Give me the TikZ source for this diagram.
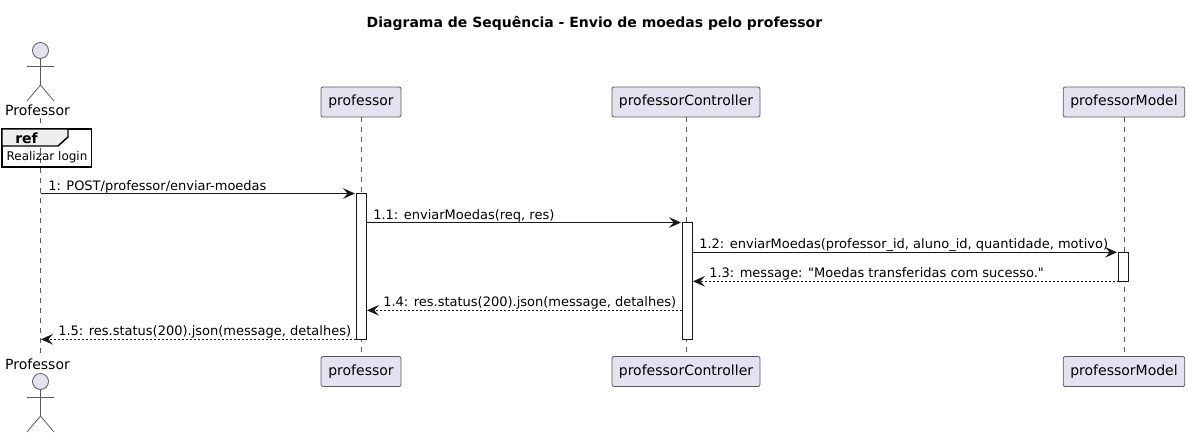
\documentclass[tikz,border=0pt]{standalone}
\usepackage{fontspec}
\setmainfont{DejaVu Sans}[Ligatures=TeXOff]
\usetikzlibrary{arrows.meta}
\pgfdeclarelayer{bg}
\pgfsetlayers{bg,main}
\definecolor{partfill}{HTML}{E2E2F0}
\definecolor{partline}{HTML}{5A5A5A}
\definecolor{msgline}{HTML}{181818}
\definecolor{reffill}{HTML}{EEEEEE}
\tikzset{
    part/.style={draw=partline, line width=.6pt, fill=partfill, rounded corners=1.5pt, inner sep=0pt, minimum height=22.5pt, font=\fontsize{10.5}{12}\selectfont},
    who/.style={inner sep=0pt, font=\fontsize{10.5}{12}\selectfont},
    msg/.style={inner sep=0pt, anchor=base west, font=\fontsize{9.75}{12}\selectfont},
    act/.style={draw=msgline, line width=.75pt, fill=white, inner sep=0pt, minimum width=7.5pt},
    life/.style={draw=partline, line width=.5pt, dash pattern=on 3.75pt off 3.75pt},
    stick/.style={draw=partline, line width=.6pt},
    headc/.style={circle, draw=partline, line width=.6pt, fill=partfill, inner sep=0pt, minimum size=12pt},
    call/.style={-{Stealth[length=9pt, width=8pt, inset=3.5pt]}, line width=.75pt, draw=msgline},
    back/.style={-{Stealth[length=9pt, width=8pt, inset=3.5pt]}, line width=.6pt, draw=msgline, dash pattern=on 1.5pt off 1.5pt}
}

\begin{document}
\begin{tikzpicture}[x=.75pt, y=-.75pt]
    \useasboundingbox (0,0) rectangle (1189,437);

    \node (title) at (594.5,23.7) [inner sep=0pt, font=\fontsize{10.5}{12}\selectfont\bfseries] {Diagrama de Sequência - Envio de moedas pelo professor};

    % actor, top and bottom
    \node (head1) at (40.5,50.5) [headc] {};
    \coordinate (hip1) at (40.5,85);
    \coordinate (armL1) at (27,66);
    \coordinate (armR1) at (54,66);
    \coordinate (legL1) at (27,101);
    \coordinate (legR1) at (54,101);
    \draw [stick] (head1) -- (hip1);
    \draw [stick] (armL1) -- (armR1);
    \draw [stick] (legL1) -- (hip1) -- (legR1);
    \node (who1) at (37.5,110) [who] {Professor};

    \node (who2) at (37.5,364) [who] {Professor};
    \node (head2) at (40.5,381.5) [headc] {};
    \coordinate (hip2) at (40.5,416);
    \coordinate (armL2) at (27,397);
    \coordinate (armR2) at (54,397);
    \coordinate (legL2) at (27,432);
    \coordinate (legR2) at (54,432);
    \draw [stick] (head2) -- (hip2);
    \draw [stick] (armL2) -- (armR2);
    \draw [stick] (legL2) -- (hip2) -- (legR2);

    % participants
    \node (prof1) at (361,102) [part, minimum width=60pt] {professor};
    \node (ctrl1) at (686,102) [part, minimum width=111pt] {professorController};
    \node (model1) at (1124,102) [part, minimum width=91.2pt] {professorModel};
    \node (prof2) at (361,371.5) [part, minimum width=60pt] {professor};
    \node (ctrl2) at (686,371.5) [part, minimum width=111pt] {professorController};
    \node (model2) at (1124,371.5) [part, minimum width=91.2pt] {professorModel};

    \coordinate (lifeA1) at (40.5,118);
    \coordinate (lifeA2) at (40.5,353);
    \begin{pgfonlayer}{bg}
        \draw [life] (lifeA1) -- (lifeA2);
        \draw [life] (prof1) -- (prof2);
        \draw [life] (ctrl1) -- (ctrl2);
        \draw [life] (model1) -- (model2);
    \end{pgfonlayer}

    % ref frame
    \node (refbox) at (46.75,148) [draw=black, line width=1.1pt, minimum width=67pt, minimum height=28.5pt, inner sep=0pt] {};
    \coordinate (tabA) at (2,146);
    \coordinate (tabB) at (58,146);
    \coordinate (tabC) at (68,137);
    \coordinate (tabD) at (68,129);
    \coordinate (tabE) at (2,129);
    \draw [line width=1.1pt, fill=reffill] (tabE) -- (tabD) -- (tabC) -- (tabB) -- (tabA) -- cycle;
    \node (reflabel) at (26.5,138.5) [inner sep=0pt, font=\fontsize{10.5}{12}\selectfont\bfseries] {ref};
    \node (refbody) at (47,157) [inner sep=0pt, font=\fontsize{9}{10}\selectfont] {Realizar login};

    % activations
    \node (actProf) at (361.5,266.4) [act, minimum height=109.5pt] {};
    \node (actCtrl) at (687.5,280.8) [act, minimum height=87.75pt] {};
    \node (actModel) at (1123.5,266.8) [act, minimum height=21.75pt] {};

    % messages
    \coordinate (m1s) at (40.5,193.5);
    \coordinate (m1e) at (355,193.5);
    \coordinate (m2s) at (367,222.5);
    \coordinate (m2e) at (681,222.5);
    \coordinate (m3s) at (692.5,252.3);
    \coordinate (m3e) at (1117,252.3);
    \coordinate (m4s) at (1118.5,281.3);
    \coordinate (m4e) at (693,281.3);
    \coordinate (m5s) at (682,310.3);
    \coordinate (m5e) at (367,310.3);
    \coordinate (m6s) at (356,339.3);
    \coordinate (m6e) at (41,339.3);
    \draw [call] (m1s) -- (m1e);
    \draw [call] (m2s) -- (m2e);
    \draw [call] (m3s) -- (m3e);
    \draw [back] (m4s) -- (m4e);
    \draw [back] (m5s) -- (m5e);
    \draw [back] (m6s) -- (m6e);

    \node (t1) at (48,190) [msg] {1: POST/professor/enviar-moedas};
    \node (t2) at (373,219) [msg] {1.1: enviarMoedas(req, res)};
    \node (t3) at (699,248.5) [msg] {1.2: enviarMoedas(professor\_id, aluno\_id, quantidade, motivo)};
    \node (t4) at (709,277.5) [msg] {1.3: message: "Moedas transferidas com sucesso."};
    \node (t5) at (383,306.5) [msg] {1.4: res.status(200).json(message, detalhes)};
    \node (t6) at (58,335.5) [msg] {1.5: res.status(200).json(message, detalhes)};
\end{tikzpicture}
\end{document}
